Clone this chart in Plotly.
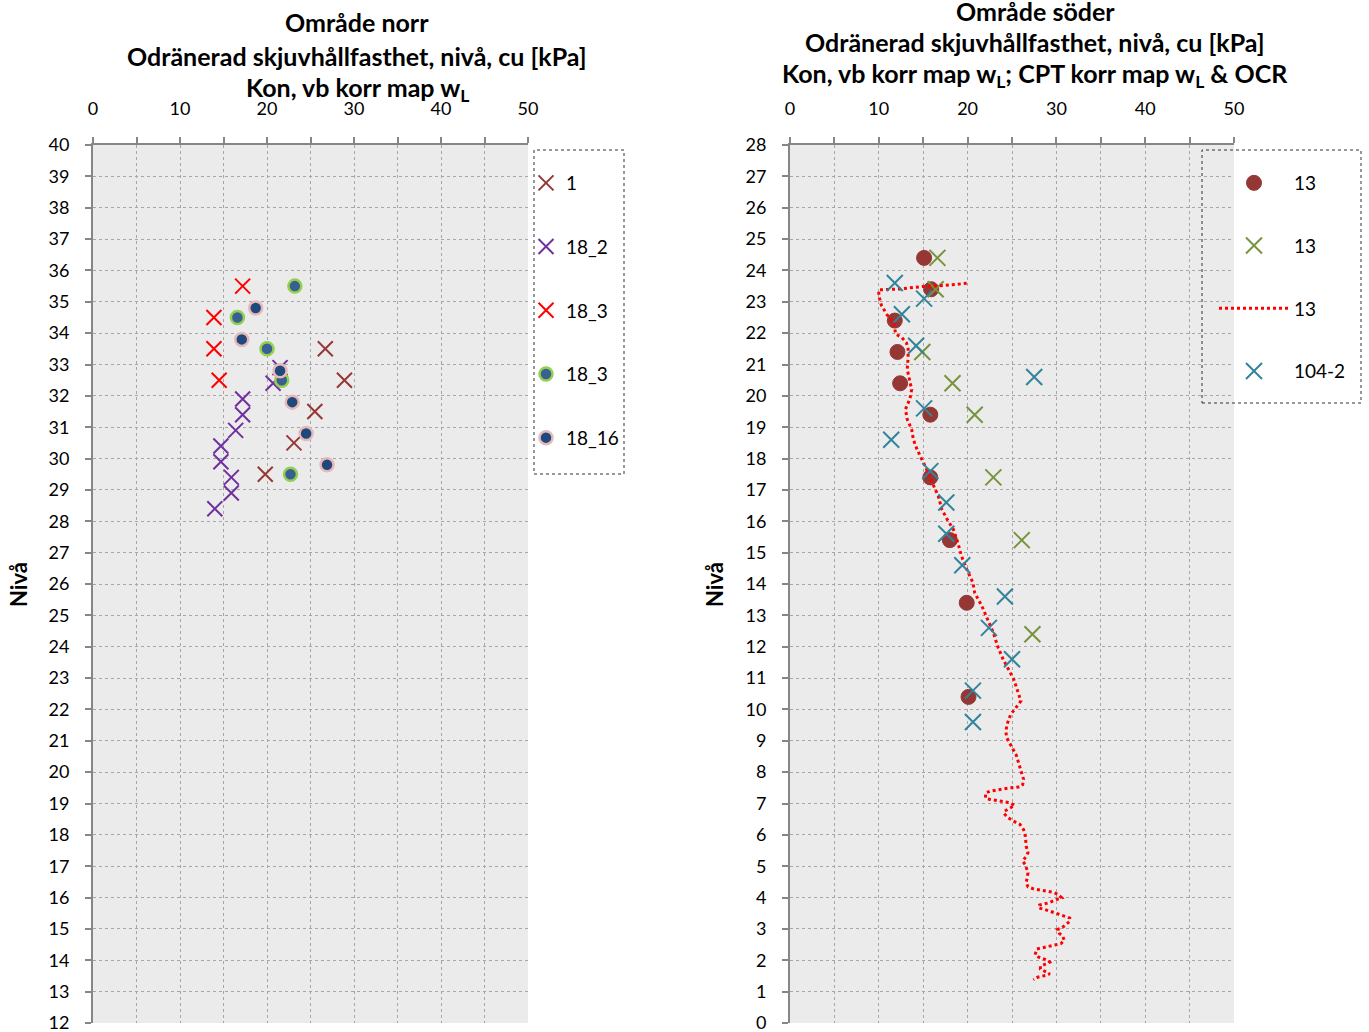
import plotly.graph_objects as go

W, H = 1369, 1032
FONT = "Lato"

# ---------------- Left chart: Område norr ----------------
n1_cu = [26.7, 28.9, 25.5, 23.1, 19.8]
n1_niva = [33.5, 32.5, 31.5, 30.5, 29.5]

n18_2_cu = [21.5, 20.7, 17.2, 17.2, 16.4, 14.7, 14.7, 15.9, 15.9, 14.0]
n18_2_niva = [32.9, 32.4, 31.9, 31.4, 30.9, 30.4, 29.9, 29.4, 28.9, 28.4]

n18_3x_cu = [17.2, 13.9, 13.9, 14.5]
n18_3x_niva = [35.5, 34.5, 33.5, 32.5]

n18_3o_cu = [23.2, 16.6, 20.0, 21.7, 22.7]
n18_3o_niva = [35.5, 34.5, 33.5, 32.5, 29.5]

n18_16_cu = [18.7, 17.1, 21.5, 22.9, 24.5, 26.9]
n18_16_niva = [34.8, 33.8, 32.8, 31.8, 30.8, 29.8]

# ---------------- Right chart: Område söder ----------------
s13o_cu = [15.1, 15.9, 11.8, 12.1, 12.4, 15.8, 15.8, 18.0, 19.9, 20.1]
s13o_niva = [24.4, 23.4, 22.4, 21.4, 20.4, 19.4, 17.4, 15.4, 13.4, 10.4]

s13x_cu = [16.6, 16.4, 14.9, 18.3, 20.8, 22.9, 26.1, 27.3]
s13x_niva = [24.4, 23.4, 21.4, 20.4, 19.4, 17.4, 15.4, 12.4]

s104_cu = [11.8, 15.1, 12.6, 14.2, 27.5, 15.1, 11.4, 15.8, 17.6, 17.6, 19.4, 24.2, 22.4, 25.0, 20.6, 20.6]
s104_niva = [23.6, 23.1, 22.6, 21.6, 20.6, 19.6, 18.6, 17.6, 16.6, 15.6, 14.6, 13.6, 12.6, 11.6, 10.6, 9.6]

cpt_cu = [19.9, 17.4, 15.0, 12.4, 10.0, 10.0, 10.3, 10.9, 11.7, 11.9, 12.6, 13.1, 13.3, 13.3, 13.2,
          13.7, 13.5, 13.0, 13.2, 13.7, 13.9, 14.3, 14.8, 15.2, 15.75, 16.3, 16.7, 17.1, 17.7, 18.4,
          18.9, 19.3, 19.9, 20.6, 20.8, 21.6, 22.3, 22.9, 23.4, 24.0, 24.6, 25.2, 25.7, 26.0, 25.3,
          24.85, 24.5, 24.3, 24.4, 24.7, 25.15, 25.5, 25.8, 26.0, 26.3, 26.2, 25.9, 24.8, 23.7, 22.5,
          22.05, 22.0, 22.5, 23.7, 24.8, 25.3, 24.8, 24.2, 24.1, 24.5, 25.15, 25.9, 26.3, 26.5, 26.6,
          26.8, 26.6, 26.2, 26.5, 26.8, 26.6, 26.8, 27.4, 28.5, 29.6, 30.2, 30.6, 30.0, 29.1, 28.1,
          28.0, 28.7, 29.8, 30.9, 31.5, 31.5, 31.1, 30.6, 30.1, 30.3, 30.7, 30.9, 30.5, 30.0, 28.9,
          27.8, 27.6, 28.0, 28.5, 29.1, 29.25, 28.7, 28.2, 28.2, 28.7, 29.25, 28.96, 28.5, 27.9, 27.4]
cpt_niva = [23.59, 23.52, 23.49, 23.41, 23.38, 23.2, 22.88, 22.6, 22.29, 21.97, 21.86, 21.7, 21.5, 21.2, 20.85,
            20.2, 19.9, 19.57, 19.25, 18.93, 18.6, 18.3, 18.0, 17.77, 17.4, 17.07, 16.8, 16.38, 16.06, 15.74,
            15.32, 14.9, 14.47, 14.04, 13.72, 13.3, 12.87, 12.45, 12.0, 11.6, 11.28, 10.96, 10.53, 10.27, 10.0,
            9.84, 9.57, 9.31, 9.1, 8.94, 8.72, 8.53, 8.24, 8.03, 7.77, 7.6, 7.53, 7.5, 7.45, 7.39,
            7.34, 7.18, 7.13, 7.07, 7.02, 6.94, 6.86, 6.76, 6.68, 6.56, 6.44, 6.33, 6.17, 5.96, 5.64,
            5.43, 5.32, 5.16, 5.05, 4.79, 4.47, 4.34, 4.28, 4.22, 4.17, 4.1, 3.99, 3.94, 3.83, 3.76,
            3.67, 3.62, 3.51, 3.4, 3.35, 3.24, 3.14, 3.03, 2.98, 2.87, 2.77, 2.63, 2.53, 2.5, 2.45,
            2.36, 2.18, 2.1, 2.05, 1.99, 1.94, 1.86, 1.81, 1.72, 1.65, 1.57, 1.53, 1.49, 1.46, 1.38]

x_ticks = [0, 10, 20, 30, 40, 50]

fig = go.Figure()


def xmark(x, y, name, color, xa, ya, leg, grp, size=15):
    fig.add_trace(go.Scatter(
        x=x, y=y, mode="markers", name=name, xaxis=xa, yaxis=ya, legend=leg,
        legendgroup=grp,
        marker=dict(symbol="x-thin", size=size, color=color,
                    line=dict(color=color, width=2))))


def omark(x, y, name, fill, edge, ew, xa, ya, leg, grp, size=13):
    fig.add_trace(go.Scatter(
        x=x, y=y, mode="markers", name=name, xaxis=xa, yaxis=ya, legend=leg,
        legendgroup=grp,
        marker=dict(symbol="circle", size=size, color=fill,
                    line=dict(color=edge, width=ew))))


xmark(n1_cu, n1_niva, "1", "#953735", "x", "y", "legend", "g1")
xmark(n18_2_cu, n18_2_niva, "18_2", "#7030a0", "x", "y", "legend", "g2")
xmark(n18_3x_cu, n18_3x_niva, "18_3", "#ff0000", "x", "y", "legend", "g3")
omark(n18_3o_cu, n18_3o_niva, "18_3", "#3a5f91", "#92d050", 2.5, "x", "y", "legend", "g4")
omark(n18_16_cu, n18_16_niva, "18_16", "#1f497d", "#e6b9b8", 2.5, "x", "y", "legend", "g5")

omark(s13o_cu, s13o_niva, "13", "#953735", "#953735", 1, "x2", "y2", "legend2", "h1", size=15)
xmark(s13x_cu, s13x_niva, "13", "#77933c", "x2", "y2", "legend2", "h2", size=16)
fig.add_trace(go.Scatter(
    x=cpt_cu, y=cpt_niva, mode="lines", name="13", xaxis="x2", yaxis="y2",
    legend="legend2", legendgroup="h3",
    line=dict(color="#ff0000", width=3, dash="dot")))
xmark(s104_cu, s104_niva, "104-2", "#31849b", "x2", "y2", "legend2", "h4", size=16)

GRID = "#a6a6a6"
AXC = "#868686"
tickfont = dict(family=FONT, size=18, color="black")


def xaxis_cfg(dom, anchor):
    return dict(domain=dom, anchor=anchor, side="top", range=[0, 50], automargin=False,
                tickvals=x_ticks, ticks="outside", ticklen=6, tickwidth=2, tickcolor=AXC,
                ticklabelstandoff=15,
                showline=True, linecolor=AXC, linewidth=2,
                showgrid=True, gridcolor=GRID, griddash="dot", gridwidth=1,
                zeroline=False, tickfont=tickfont,
                minor=dict(dtick=5, ticks="outside", ticklen=6, tickwidth=2, tickcolor=AXC,
                           showgrid=True, gridcolor=GRID, griddash="dot", gridwidth=1),
                fixedrange=True)


def yaxis_cfg(dom, anchor, rng):
    return dict(domain=dom, anchor=anchor, range=rng, dtick=1, automargin=False,
                ticks="outside", ticklen=6, tickwidth=2, tickcolor=AXC,
                ticklabelstandoff=12, ticklabeloverflow="allow",
                showline=True, linecolor=AXC, linewidth=2,
                showgrid=True, gridcolor=GRID, griddash="dot", gridwidth=1,
                zeroline=False, tickfont=tickfont, fixedrange=True)


def px(v):
    return v / W


def py(v):
    return 1 - v / H


ydom = [py(1023), py(145)]
fig.update_layout(
    width=W, height=H, margin=dict(l=0, r=0, t=0, b=0, autoexpand=False),
    paper_bgcolor="white", plot_bgcolor="#ebebeb",
    xaxis=xaxis_cfg([px(93), px(528)], "y"),
    yaxis=yaxis_cfg(ydom, "x", [12, 40]),
    xaxis2=xaxis_cfg([px(790), px(1234)], "y2"),
    yaxis2=yaxis_cfg(ydom, "x2", [0, 28]),
    legend=dict(x=px(526), y=py(164), xanchor="left", yanchor="top",
                bgcolor="rgba(0,0,0,0)", borderwidth=0, tracegroupgap=36,
                font=dict(family=FONT, size=19, color="black"), itemwidth=30),
    legend2=dict(x=px(1214), y=py(164), xanchor="left", yanchor="top",
                 bgcolor="rgba(0,0,0,0)", borderwidth=0, tracegroupgap=35,
                 font=dict(family=FONT, size=19, color="black"), itemwidth=70),
    showlegend=True,
)

# dotted legend frames
for (x0, y0, x1, y1) in [(534, 150, 624, 474), (1202, 150, 1361, 403)]:
    fig.add_shape(type="rect", xref="paper", yref="paper",
                  x0=px(x0), x1=px(x1), y0=py(y1), y1=py(y0),
                  line=dict(color="#303030", width=1, dash="dot"),
                  fillcolor="rgba(0,0,0,0)", layer="above")

tfont = dict(family=FONT, size=25, color="black")
titles = [
    (357, 22, "<b>Område norr</b>"),
    (357, 56, "<b>Odränerad skjuvhållfasthet, nivå, cu [kPa]</b>"),
    (357, 89, "<b>Kon, vb korr map w<sub>L</sub></b>"),
    (1035, 11, "<b>Område söder</b>"),
    (1035, 42, "<b>Odränerad skjuvhållfasthet, nivå, cu [kPa]</b>"),
    (1035, 75, "<b>Kon, vb korr map w<sub>L</sub>; CPT korr map w<sub>L</sub> & OCR</b>"),
]
for (x, y, t) in titles:
    fig.add_annotation(x=px(x), y=py(y), xref="paper", yref="paper", text=t,
                       showarrow=False, xanchor="center", yanchor="middle", font=tfont)

for x in (18, 714):
    fig.add_annotation(x=px(x), y=py(585), xref="paper", yref="paper", text="<b>Nivå</b>",
                       showarrow=False, textangle=-90, xanchor="center", yanchor="middle",
                       font=dict(family=FONT, size=22, color="black"))

post = (
    "document.documentElement.style.margin='0';"
    "document.documentElement.style.padding='0';"
    "document.documentElement.style.overflow='hidden';"
    "document.body.style.margin='0';document.body.style.padding='0';"
    "document.body.style.overflow='hidden';"
    "var gd=document.getElementById('{plot_id}');"
    "gd.style.position='fixed';gd.style.top='0px';gd.style.left='0px';"
)
fig.write_html("out.html", post_script=post, config={"displayModeBar": False})
